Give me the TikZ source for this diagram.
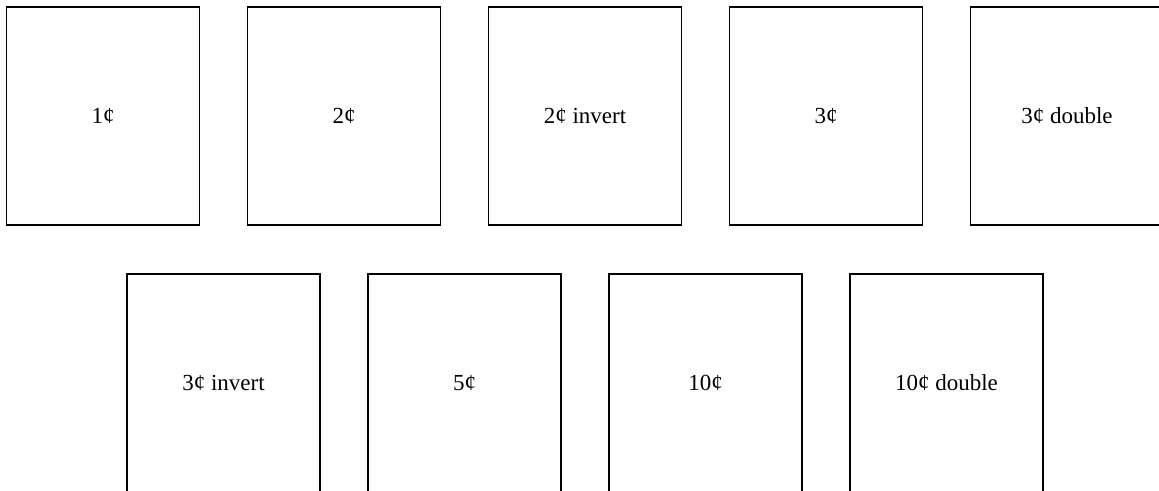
\documentclass[tikz,border=0pt]{standalone}
\usepackage{fontspec}
\setmainfont{Liberation Serif}
\usepackage{tikz}

\begin{document}
\begin{tikzpicture}[x=1pt,y=1pt,
    stamp/.style={draw, line width=1.4pt, minimum width=193pt, minimum height=218pt,
                  inner sep=0pt, font=\fontsize{23}{27}\selectfont}]
            \clip (0,0) rectangle (1159,-490);
            \def\w{241}
            \foreach \lbl [count=\i from 0] in {1¢, 2¢, 2¢ invert, 3¢, 3¢ double} {
                    \node[stamp] (top\i) at (103+\w*\i,-116) {\lbl};
                }
            \foreach \lbl [count=\i from 0] in {3¢ invert, 5¢, 10¢, 10¢ double} {
                    \node[stamp] (bot\i) at (223.5+\w*\i,-383) {\lbl};
                }
        \end{tikzpicture}
\end{document}
